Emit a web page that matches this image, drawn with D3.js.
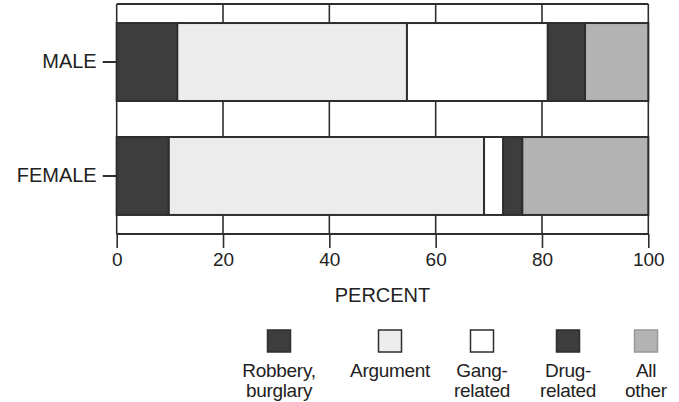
<!DOCTYPE html>
<html><head><meta charset="utf-8">
<script src="https://cdn.jsdelivr.net/npm/d3@7"></script>
<style>
html,body{margin:0;padding:0;background:#fff;}
svg{display:block;font-family:"Liberation Sans",Arial,Helvetica,sans-serif;}
</style></head>
<body><svg id="c" width="679" height="402"></svg>
<script>
const groups = ["MALE", "FEMALE"];
const causes = ["Robbery, burglary", "Argument", "Gang-related", "Drug-related", "All other"];
const legendLines = [["Robbery,", "burglary"], ["Argument"], ["Gang-", "related"], ["Drug-", "related"], ["All", "other"]];
const maleValues = [11.4, 43.2, 26.5, 7.0, 11.9];
const femaleValues = [9.8, 59.3, 3.6, 3.6, 23.7];
const xTicks = [0, 20, 40, 60, 80, 100];
const xTitle = "PERCENT";

const colors = ["#3d3d3d", "#ececec", "#ffffff", "#3d3d3d", "#b3b3b3"];
const ink = "#2e2e2e";

const svg = d3.select("#c");
const x = d3.scaleLinear().domain([0, 100]).range([116.7, 648.3]);
const y = d3.scaleBand().domain(groups).range([4, 234]).paddingInner(0.316).paddingOuter(0.167);

const valuesBy = {MALE: maleValues, FEMALE: femaleValues};
const rows = groups.map(g => {
  let acc = 0;
  return {g, segs: valuesBy[g].map((v, i) => { const s = {i, x0: acc, x1: acc + v}; acc += v; return s; })};
});

// gridlines
svg.append("g").selectAll("line").data(xTicks).join("line")
  .attr("x1", d => x(d)).attr("x2", d => x(d))
  .attr("y1", 4).attr("y2", 234)
  .attr("stroke", ink).attr("stroke-width", 1.6);
// top & bottom frame
svg.append("line").attr("x1", x(0)).attr("x2", x(100)).attr("y1", 4).attr("y2", 4).attr("stroke", ink).attr("stroke-width", 2);
svg.append("line").attr("x1", x(0)).attr("x2", x(100)).attr("y1", 234).attr("y2", 234).attr("stroke", ink).attr("stroke-width", 2);

// bars
const rg = svg.append("g").selectAll("g").data(rows).join("g");
rg.selectAll("rect").data(d => d.segs.map(s => ({...s, g: d.g}))).join("rect")
  .attr("x", d => x(d.x0)).attr("width", d => x(d.x1) - x(d.x0))
  .attr("y", d => y(d.g)).attr("height", y.bandwidth())
  .attr("fill", d => colors[d.i]).attr("stroke", ink).attr("stroke-width", 2);

// x axis
const xa = svg.append("g").attr("transform", "translate(0,234)")
  .call(d3.axisBottom(x).tickValues(xTicks).tickSize(14).tickPadding(5).tickFormat(d3.format("d")));
xa.select(".domain").remove();
xa.selectAll("line").attr("stroke", ink).attr("stroke-width", 1.6);
xa.selectAll("text").attr("font-size", 19).attr("fill", "#222").attr("font-family", "Liberation Sans, Arial, sans-serif");

svg.append("text").attr("x", x(50)).attr("y", 302).attr("text-anchor", "middle")
  .attr("font-size", 20).attr("fill", "#222").text(xTitle);

// y axis
const ya = svg.append("g").attr("transform", `translate(${x(0)},0)`)
  .call(d3.axisLeft(y).tickSize(14).tickPadding(6));
ya.select(".domain").remove();
ya.selectAll("line").attr("stroke", ink).attr("stroke-width", 2);
ya.selectAll("text").attr("font-size", 20).attr("fill", "#222").attr("font-family", "Liberation Sans, Arial, sans-serif");

// legend
const legendX = [279, 390, 482, 568, 646];
const lg = svg.append("g").selectAll("g").data(causes).join("g")
  .attr("transform", (d, i) => `translate(${legendX[i]},0)`);
lg.append("rect").attr("x", -11.5).attr("y", 330).attr("width", 23).attr("height", 22)
  .attr("fill", (d, i) => colors[i]).attr("stroke", (d, i) => i === 4 ? "#999" : ink).attr("stroke-width", 1.5);
lg.each(function(d, i) {
  const g = d3.select(this);
  legendLines[i].forEach((t, j) => {
    g.append("text").attr("x", 0).attr("y", 377 + j * 20).attr("text-anchor", "middle")
      .attr("font-size", 19).attr("letter-spacing", -0.3).attr("fill", "#222").text(t);
  });
});
</script></body></html>
